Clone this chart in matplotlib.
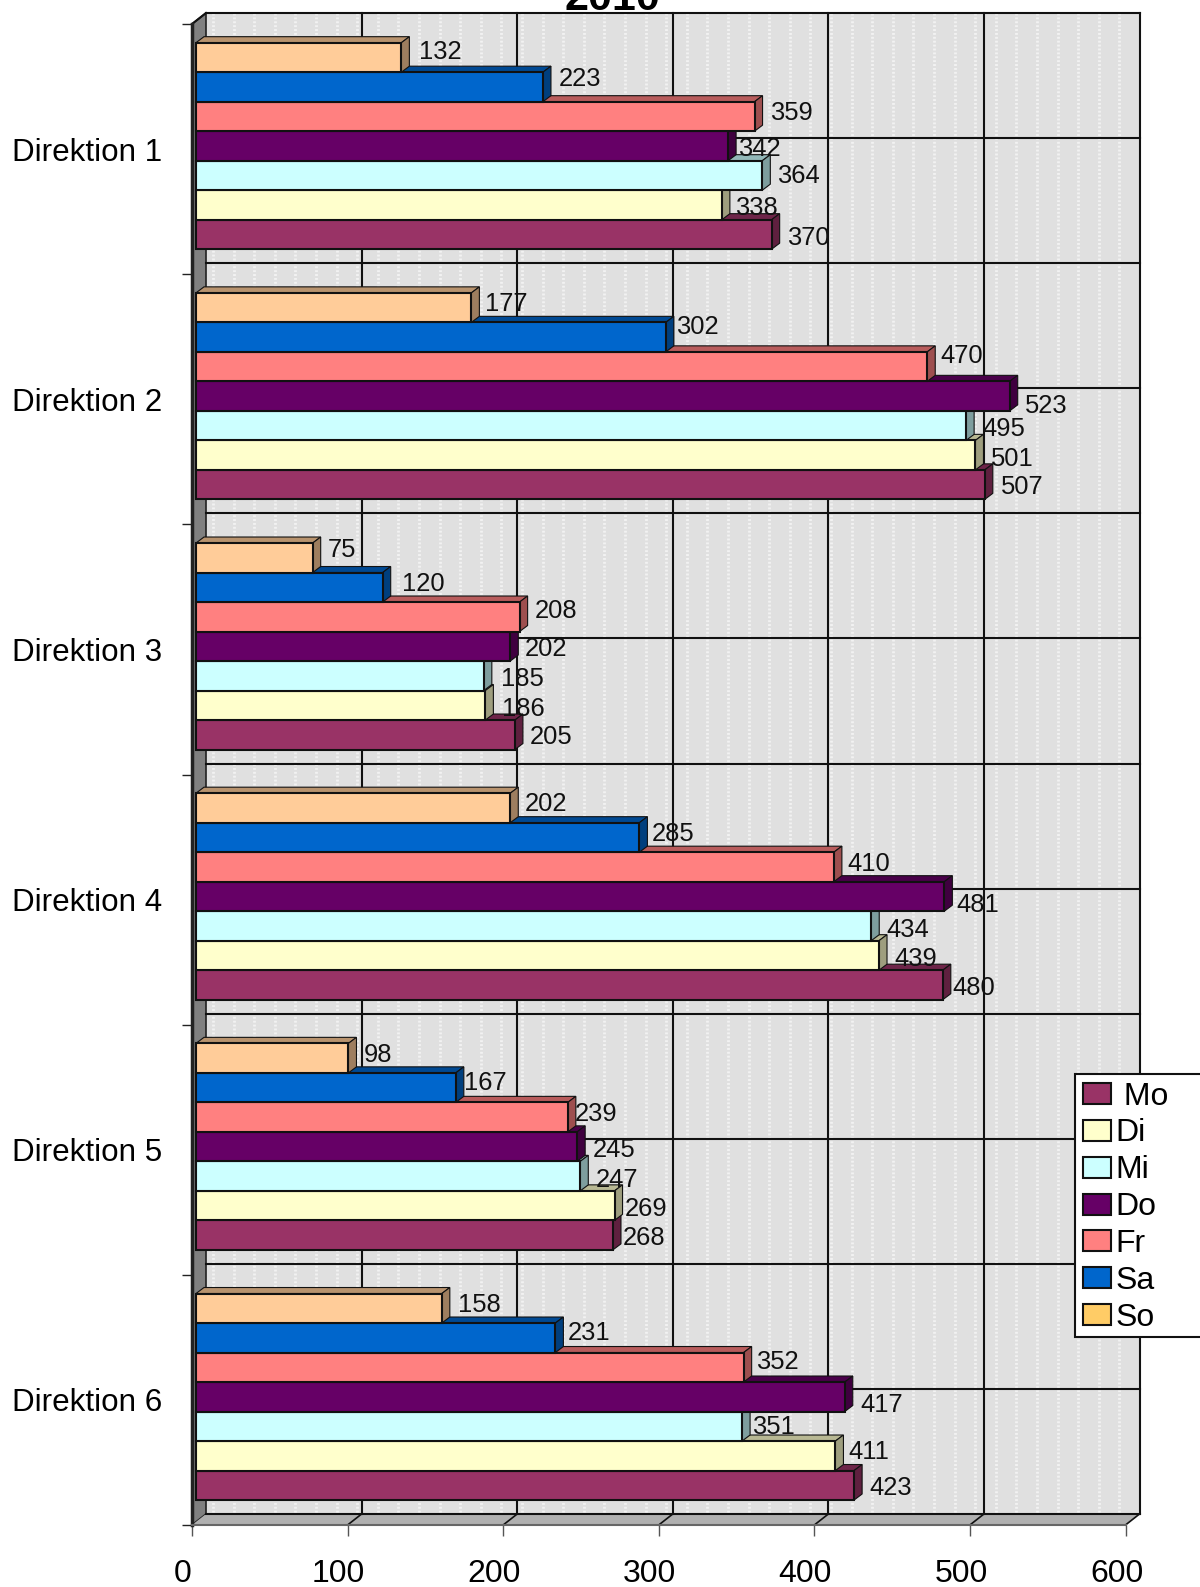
import matplotlib
matplotlib.use("Agg")
import matplotlib.pyplot as plt
import numpy as np
from matplotlib.patches import Polygon, Patch, Rectangle
from matplotlib.transforms import Affine2D, ScaledTranslation, IdentityTransform
from matplotlib.colors import to_rgb

plt.rcParams['font.family'] = ['Liberation Sans', 'DejaVu Sans']

directions = ["Direktion 1", "Direktion 2", "Direktion 3", "Direktion 4", "Direktion 5", "Direktion 6"]
days = [" Mo", "Di", "Mi", "Do", "Fr", "Sa", "So"]

mo = [370, 507, 205, 480, 268, 423]
di = [338, 501, 186, 439, 269, 411]
mi = [364, 495, 185, 434, 247, 351]
do = [342, 523, 202, 481, 245, 417]
fr = [359, 470, 208, 410, 239, 352]
sa = [223, 302, 120, 285, 167, 231]
so = [132, 177, 75, 202, 98, 158]
series = [mo, di, mi, do, fr, sa, so]

bar_colors = ["#993366", "#FFFFCC", "#CCFFFF", "#660066", "#FF8080", "#0066CC", "#FFCC99"]
legend_colors = ["#993366", "#FFFFCC", "#CCFFFF", "#660066", "#FF8080", "#0066CC", "#FFCC66"]

# label spots, from top bar (So) to bottom bar (Mo), pixels of the shrunk picture
label_spots = [
    [(414, 50), (552, 76), (761, 110), (729, 145), (768, 172), (726, 204), (778, 233)],
    [(479, 299), (668, 321), (929, 350), (1013, 399), (971, 422), (979, 452), (989, 480)],
    [(324, 542), (397, 575), (529, 602), (519, 640), (495, 669), (496, 699), (524, 727)],
    [(519, 793), (644, 822), (837, 852), (945, 893), (876, 917), (884, 946), (941, 975)],
    [(360, 1041), (459, 1069), (568, 1099), (586, 1135), (589, 1164), (617, 1193), (615, 1222)],
    [(453, 1288), (561, 1316), (747, 1344), (850, 1387), (743, 1409), (838, 1433), (859, 1469)],
]

W, H = 1200, 1587
left, right, top, bottom = 192, 1125.5, 24, 1525
px_x = 600.0 / (right - left)   # data units per pixel
px_y = 6.0 / (bottom - top)

def shade(color, f):
    r, g, b = to_rgb(color)
    return (r * f, g * f, b * f)

fig = plt.figure(figsize=(12, 15.87), dpi=100)
ax = fig.add_axes([left / W, (H - bottom) / H, (right - left) / W, (bottom - top) / H])
ax.set_xlim(0, 600)
ax.set_ylim(6, 0)
ax.set_facecolor("none")

# walls, offset by the chart depth
wall_dx = 14 * px_x
wall_dy = 11 * px_y
ax.add_patch(Polygon([(wall_dx, -wall_dy), (600 + wall_dx, -wall_dy), (600 + wall_dx, 6 - wall_dy), (wall_dx, 6 - wall_dy)],
                     closed=True, facecolor="#E0E0E0", edgecolor="none", clip_on=False, zorder=0))
ax.add_patch(Polygon([(0, 0), (wall_dx, -wall_dy), (wall_dx, 6 - wall_dy), (0, 6)],
                     closed=True, facecolor="#808080", edgecolor="#202020", linewidth=1.2, clip_on=False, zorder=0.5))
ax.add_patch(Polygon([(0, 6), (wall_dx, 6 - wall_dy), (600 + wall_dx, 6 - wall_dy), (600, 6)],
                     closed=True, facecolor="#B0B0B0", edgecolor="none", clip_on=False, zorder=0.5))

# the wall fill is a dither with pale vertical stripes
for xs in np.arange(wall_dx + 7 * px_x, 600 + wall_dx, 20.6 * px_x):
    ax.plot([xs, xs], [-wall_dy, 6 - wall_dy], color="#F2F2F2", lw=2.0, ls=(0, (0.7, 0.7)),
            clip_on=False, zorder=0.2)

for xv in range(100, 700, 100):
    ax.plot([xv + wall_dx, xv + wall_dx], [-wall_dy, 6 - wall_dy], color="#111111", lw=1.5, clip_on=False, zorder=1)
    ax.plot([xv, xv + wall_dx], [6, 6 - wall_dy], color="#111111", lw=1.2, clip_on=False, zorder=1)
for k in range(0, 13):
    yv = k * 0.5
    ax.plot([wall_dx, 600 + wall_dx], [yv - wall_dy, yv - wall_dy], color="#111111", lw=1.5, clip_on=False, zorder=1)
ax.plot([0, wall_dx], [0, -wall_dy], color="#111111", lw=1.5, clip_on=False, zorder=1)

# bars, bottom one first: each bar hides the top face of the one below it
bar_h = 29.5 * px_y
x0 = 4 * px_x
shift = -3.15 * px_y
dep_x = 8 * px_x
dep_y = 6 * px_y
z = 2
for g in range(6):
    for s in range(7):
        pos = 6 - s
        v = series[s][g]
        c = bar_colors[s]
        y_top = g + 0.5 + shift + (pos - 3.5) * bar_h
        y_bot = y_top + bar_h
        xe = x0 + v
        ax.add_patch(Polygon([(x0, y_top), (x0 + dep_x, y_top - dep_y), (xe + dep_x, y_top - dep_y), (xe, y_top)],
                             closed=True, facecolor=shade(c, 0.72), edgecolor="#111111", linewidth=0.8, zorder=z))
        ax.add_patch(Polygon([(xe, y_top), (xe + dep_x, y_top - dep_y), (xe + dep_x, y_bot - dep_y), (xe, y_bot)],
                             closed=True, facecolor=shade(c, 0.62), edgecolor="#111111", linewidth=0.8, zorder=z))
        ax.barh(y_top + bar_h / 2, v, height=bar_h, left=x0, color=c, edgecolor="#111111", linewidth=1.5, zorder=z + 0.1)
        z += 0.2

ax.set_xticks(range(0, 700, 100))
ax.set_xticklabels([str(t) for t in range(0, 700, 100)], fontsize=23)
ax.tick_params(axis='x', length=8, width=1, color="#555555", pad=16.5)
for lab in ax.get_xticklabels():
    lab.set_transform(lab.get_transform() + ScaledTranslation(-9 / 100, 0, fig.dpi_scale_trans))

ax.set_yticks(range(0, 7))
ax.set_yticklabels([])
ax.set_yticks([i + 0.5 for i in range(6)], minor=True)
ax.set_yticklabels(directions, minor=True, fontsize=22.6, ha='left')
ax.tick_params(axis='y', which='major', length=7, width=1, color="#222222")
ax.tick_params(axis='y', which='minor', length=0, pad=129.5)

for name in ['top', 'right']:
    ax.spines[name].set_visible(False)
ax.spines['left'].set_linewidth(2.5)
ax.spines['left'].set_color("#222222")
ax.spines['bottom'].set_linewidth(1.5)
ax.spines['bottom'].set_color("#666666")

# data labels
shrunk = Affine2D().scale(W / 1186).scale(1, -1).translate(0, H)
for g, spots in enumerate(label_spots):
    for pos, s in enumerate(range(6, -1, -1)):
        lx, ly = spots[pos]
        fig.text(lx, ly + 1.8, str(series[s][g]), transform=shrunk, fontsize=18.4,
                 ha='left', va='center', color="#111111", zorder=20)

# title is cut by the top of the page in the original
fig.text(612 / W, 1 - 10.5 / H, "2010", fontsize=31, fontweight='bold', ha='center', va='baseline')

# legend box runs off the right edge of the page
fig.add_artist(Rectangle((1075, H - 1337), 135, 263, transform=IdentityTransform(), facecolor="white",
                         edgecolor="#111111", linewidth=1.5, zorder=9))
handles = [Patch(facecolor=c, edgecolor="#111111", linewidth=1.5) for c in legend_colors]
leg = fig.legend(handles, days, loc='upper left', bbox_to_anchor=(1073, H - 1072),
                 bbox_transform=IdentityTransform(), fontsize=23, frameon=False,
                 borderaxespad=0, borderpad=0.3,
                 handlelength=0.88, handleheight=0.63, handletextpad=0.15, labelspacing=0.216)
leg.set_zorder(10)

fig.savefig("out.png", dpi=100)
